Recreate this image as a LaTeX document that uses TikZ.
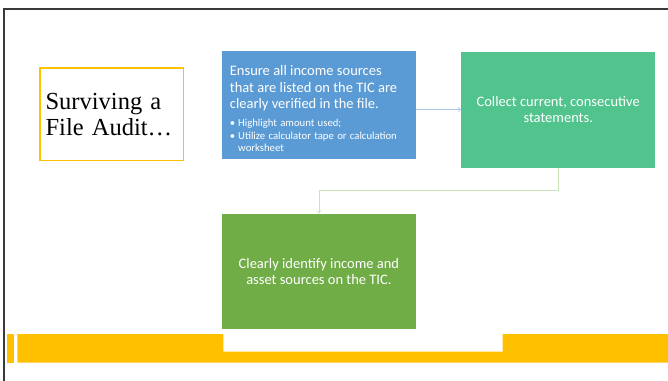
\documentclass[tikz,border=0pt]{standalone}
\usepackage{fontspec}
\setmainfont{Carlito}
\newfontfamily\titlefont{Liberation Serif}
\usetikzlibrary{arrows.meta}
\definecolor{frameGray}{HTML}{3A3A3A}
\definecolor{accentYellow}{HTML}{FFC000}
\definecolor{boxBlue}{HTML}{5B9BD5}
\definecolor{boxTeal}{HTML}{50C48C}
\definecolor{boxGreen}{HTML}{70AD47}
\definecolor{linkBlue}{HTML}{A9C9E8}
\definecolor{linkGreen}{HTML}{C9E2B8}
\tikzset{
  card/.style={anchor=north west, inner sep=0pt, minimum width=194pt, text=white, align=center},
  cardfont/.style={font=\fontsize{14.5}{16.4}\selectfont},
  link/.style={line width=0.6pt, -{Straight Barb[length=2.5pt,width=5pt]}},
}
\begin{document}
\begin{tikzpicture}[x=1pt,y=-1pt]
\useasboundingbox (0,0) rectangle (668,380);
% frame
\draw[frameGray, line width=2.4pt] (4.2,400) -- (4.2,9) -- (700,9);
% bottom bar
\fill[accentYellow] (7,334) rectangle (14,362.7);
\fill[accentYellow] (17.3,334) -- (223.3,334) -- (223.3,351.7) -- (502.7,351.7) -- (502.7,334) -- (668,334) -- (668,362.7) -- (17.3,362.7) -- cycle;
% title
\node[anchor=north west, draw=accentYellow, line width=1.2pt, inner sep=0pt,
      minimum width=143.4pt, minimum height=92.7pt, text width=132pt, align=left,
      font=\titlefont\fontsize{24.5}{26}\selectfont] (title) at (39.3,67.3)
  {Surviving a\\File Audit…};
% boxes
\node[card, fill=boxBlue, minimum height=107.3pt, text width=178pt, align=left] (ensure) at (221.7,51)
  {{\fontsize{14.5}{16.4}\selectfont \rule{0pt}{18pt}Ensure all income sources\\that are listed on the TIC are\\clearly verified in the file.\par}
   \vspace{5pt}
   {\fontsize{10.7}{12.7}\selectfont \makebox[8.3pt][l]{\textbullet}Highlight amount used;\\\makebox[8.3pt][l]{\textbullet}Utilize calculator tape or calculation\\\hspace*{8.3pt}worksheet\par}};
\node[card, cardfont, fill=boxTeal, minimum height=115.6pt] (collect) at (461,51.7)
  {Collect current, consecutive\\statements.};
\node[card, cardfont, fill=boxGreen, minimum height=115.7pt] (identify) at (221.7,213.3)
  {Clearly identify income and\\asset sources on the TIC.};
% connectors
\draw[link, linkBlue] (ensure.east |- collect.west) -- (collect.west);
\draw[link, linkGreen] (collect.south) -- ++(0,23) -| (identify.north);
\end{tikzpicture}
\end{document}
